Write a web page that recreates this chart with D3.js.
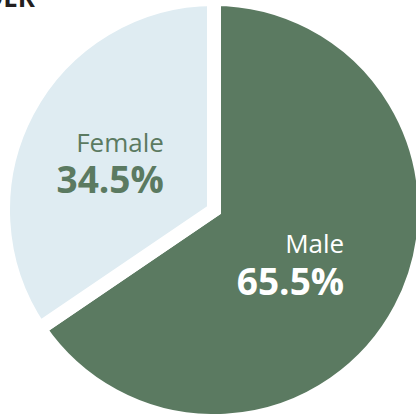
<!DOCTYPE html>
<html>
<head>
<meta charset="utf-8">
<script src="https://cdn.jsdelivr.net/npm/d3@7"></script>
<style>
  html, body { margin: 0; padding: 0; background: #fff; }
  svg { display: block; font-family: "Open Sans", sans-serif; }
</style>
</head>
<body>
<svg id="chart" width="416" height="414"></svg>
<script>
// data
const labels = ["Male", "Female"];
const shares = [65.5, 34.5];
const fills = ["#5b7a61", "#dfecf2"];
const labelCols = ["#ffffff", "#5b7a61"];

const width = 416, height = 414;
const cx = 214, cy = 210;
const r = 211;

const svg = d3.select("#chart");

// cut-off title at the top
svg.append("text")
  .attr("x", 35)
  .attr("y", 7)
  .attr("text-anchor", "end")
  .attr("font-size", 26)
  .attr("font-weight", 700)
  .attr("fill", "#231f20")
  .text("GENDER");

const data = labels.map((d, i) => ({ label: d, value: shares[i], i: i }));

const pie = d3.pie()
  .value((d) => d.value)
  .sort(null);

const arc = d3.arc().innerRadius(0).outerRadius(r);
const labelArc = d3.arc().innerRadius(102).outerRadius(102);

const g = svg.append("g").attr("transform", `translate(${cx},${cy})`);

const arcs = pie(data);

g.selectAll("path")
  .data(arcs)
  .join("path")
  .attr("d", arc)
  .attr("fill", (d) => fills[d.data.i])
  .attr("stroke", "#fff")
  .attr("stroke-width", 14)
  .attr("stroke-linejoin", "miter");

// labels (label block sits a bit right of, and a bit steeper than, the slice centroid)
const lab = g.selectAll("g.lab")
  .data(arcs)
  .join("g")
  .attr("class", "lab")
  .attr("transform", (d) => {
    const c = labelArc.centroid(d);
    return `translate(${c[0] + 40},${c[1] * 1.06})`;
  });

lab.append("text")
  .attr("y", -7.5)
  .attr("text-anchor", "end")
  .attr("font-size", 26)
  .attr("fill", (d) => labelCols[d.data.i])
  .text((d) => d.data.label);

lab.append("text")
  .attr("y", 34)
  .attr("text-anchor", "end")
  .attr("font-size", 37)
  .attr("font-weight", 700)
  .attr("fill", (d) => labelCols[d.data.i])
  .text((d) => d3.format(".1f")(d.data.value) + "%");
</script>
</body>
</html>
